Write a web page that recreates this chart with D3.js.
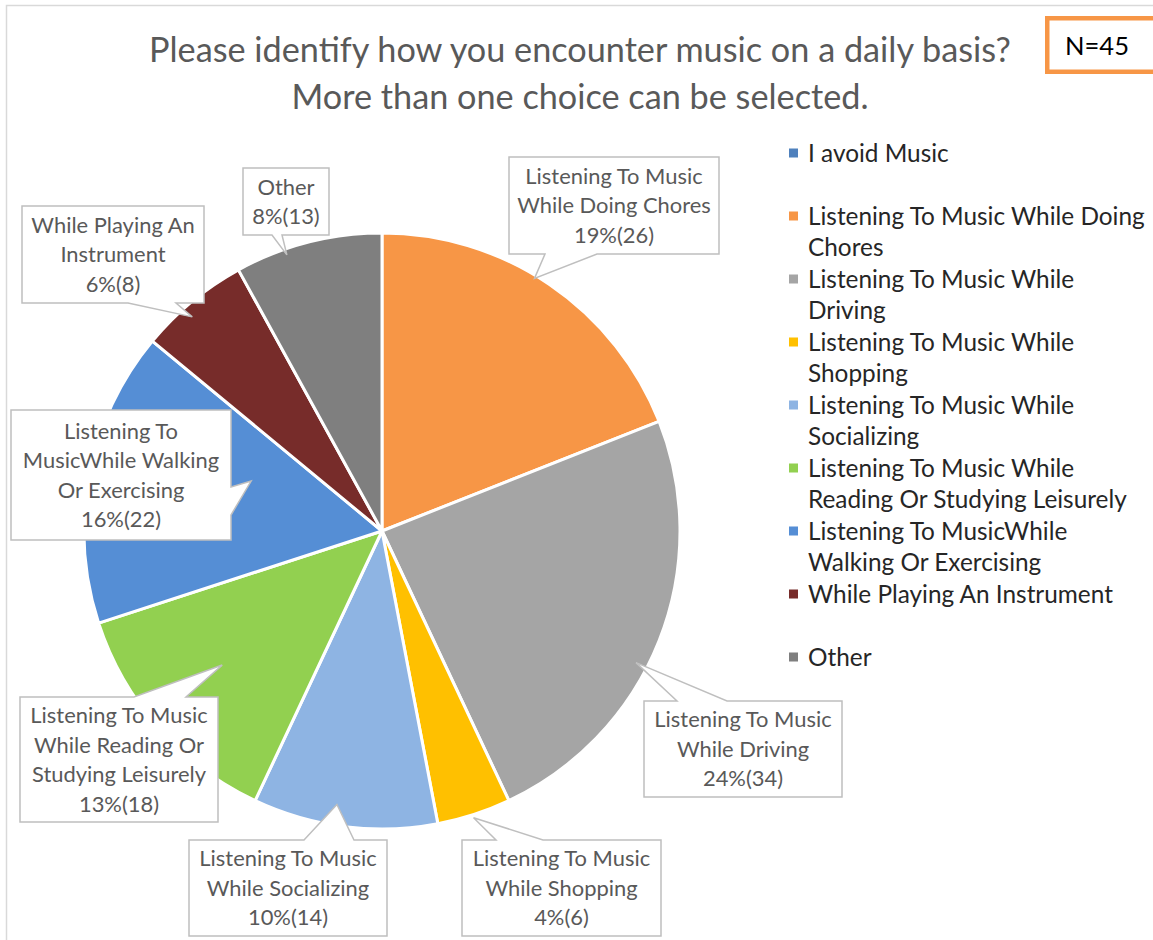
<!DOCTYPE html>
<html>
<head>
<meta charset="utf-8">
<script src="https://cdn.jsdelivr.net/npm/d3@7"></script>
<style>
  html, body { margin: 0; padding: 0; background: #fff; }
  svg { display: block; }
</style>
</head>
<body>
<svg id="chart" width="1153" height="940"></svg>
<script>
// ---- data ----
const legendLines = [
  ["I avoid Music"],
  ["Listening To Music While Doing", "Chores"],
  ["Listening To Music While", "Driving"],
  ["Listening To Music While", "Shopping"],
  ["Listening To Music While", "Socializing"],
  ["Listening To Music While", "Reading Or Studying Leisurely"],
  ["Listening To MusicWhile", "Walking Or Exercising"],
  ["While Playing An Instrument"],
  ["Other"]
];
const categories = legendLines.map(l => l.join(" "));
const shares = [0, 19, 24, 4, 10, 13, 16, 6, 8];      // percent of responses
const counts = [0, 26, 34, 6, 14, 18, 22, 8, 13];     // number of responses
const calloutText = [
  null,
  ["Listening To Music", "While Doing Chores"],
  ["Listening To Music", "While Driving"],
  ["Listening To Music", "While Shopping"],
  ["Listening To Music", "While Socializing"],
  ["Listening To Music", "While Reading Or", "Studying Leisurely"],
  ["Listening To", "MusicWhile Walking", "Or Exercising"],
  ["While Playing An", "Instrument"],
  ["Other"]
];
const titleLines = ["Please identify how you encounter music on a daily basis?",
                    "More than one choice can be selected."];
const sampleNote = "N=45";

// ---- styling ----
const colors = ["#4F81BD", "#F79646", "#A5A5A5", "#FFC000", "#8EB4E3",
                "#92D050", "#558ED5", "#772C2A", "#7F7F7F"];
const FONT = "Lato, 'Open Sans', sans-serif";

const canvas = document.createElement("canvas");
const ctx = canvas.getContext("2d");
function fitSize(text, targetW) {
  ctx.font = `100px ${FONT}`;
  return 100 * targetW / ctx.measureText(text).width;
}

const svg = d3.select("#chart");

// chart area frame
svg.append("rect")
  .attr("x", 6.5).attr("y", 5.5).attr("width", 1300).attr("height", 1100)
  .attr("fill", "#fff").attr("stroke", "#D9D9D9").attr("stroke-width", 1.5);

// ---- title ----
const titleSize = fitSize(titleLines[0], 866);
svg.append("g").selectAll("text").data(titleLines).join("text")
  .attr("x", 580).attr("y", (d, i) => 62 + i * 47)
  .attr("text-anchor", "middle")
  .style("font-family", FONT).style("font-size", titleSize + "px")
  .attr("fill", "#595959").text(d => d);

// ---- sample size box ----
svg.append("rect")
  .attr("x", 1047.25).attr("y", 18.25).attr("width", 140).attr("height", 53.5)
  .attr("fill", "#fff").attr("stroke", "#F79646").attr("stroke-width", 4.5);
svg.append("text")
  .attr("x", 1065).attr("y", 55)
  .style("font-family", FONT).style("font-size", fitSize(sampleNote, 64) + "px")
  .attr("fill", "#000").text(sampleNote);

// ---- pie ----
const cx = 382, cy = 531, R = 298;
const arcs = d3.pie().value(d => d).sort(null)(shares);
const arc = d3.arc().innerRadius(0).outerRadius(R);

const pieG = svg.append("g").attr("transform", `translate(${cx},${cy})`);
pieG.selectAll("path").data(arcs).join("path")
  .attr("d", arc)
  .attr("fill", (d, i) => colors[i])
  .attr("stroke", "#fff").attr("stroke-width", 3).attr("stroke-linejoin", "round");

// ---- callouts ----
// box, side of the pointer, pointer base along that side, and where the
// pointer lands inside its slice (fraction of the slice angle, fraction of radius)
const calloutLayout = [
  null,
  { box: [509, 157, 210, 97], side: "bottom", base: [545, 597], at: [0.455, 0.99] },
  { box: [644, 701, 198, 96], side: "top",    base: [677, 727], at: [0.567, 0.96] },
  { box: [462, 840, 199, 96], side: "top",    base: [496, 543], at: [0.52, 1.01] },
  { box: [189, 840, 198, 96], side: "top",    base: [304, 354], at: [0.56, 0.93] },
  { box: [20, 697, 198, 125], side: "top",    base: [134, 186], at: [0.53, 0.70] },
  { box: [11, 410, 220, 130], side: "right",  base: [487, 515], at: [0.675, 0.47] },
  { box: [22, 206, 182, 97],  side: "bottom", base: [128, 176], at: [0.41, 0.96] },
  { box: [243, 168, 86, 67],  side: "bottom", base: [272, 282], at: [0.34, 0.98] }
];

function tipPoint(a, at) {
  const ang = a.startAngle + (a.endAngle - a.startAngle) * at[0];
  const r = R * at[1];
  return [cx + r * Math.sin(ang), cy - r * Math.cos(ang)];
}

function calloutPath(box, side, base, tip) {
  const [x, y, w, h] = box, [a0, a1] = base, t = tip.join(",");
  if (side === "top")
    return `M${x},${y}L${a0},${y}L${t}L${a1},${y}L${x + w},${y}L${x + w},${y + h}L${x},${y + h}Z`;
  if (side === "bottom")
    return `M${x},${y}L${x + w},${y}L${x + w},${y + h}L${a1},${y + h}L${t}L${a0},${y + h}L${x},${y + h}Z`;
  return `M${x},${y}L${x + w},${y}L${x + w},${a0}L${t}L${x + w},${a1}L${x + w},${y + h}L${x},${y + h}Z`;
}

const labelSize = fitSize("Listening To Music", 178);
const labelLH = 29.5;
const calloutG = svg.append("g");
arcs.forEach((a, i) => {
  const L = calloutLayout[i];
  if (!L) return;
  const tip = tipPoint(a, L.at);
  calloutG.append("path")
    .attr("d", calloutPath(L.box, L.side, L.base, tip))
    .attr("fill", "#fff").attr("stroke", "#BFBFBF").attr("stroke-width", 1.5)
    .attr("stroke-linejoin", "miter");
  const lines = calloutText[i].concat([`${shares[i]}%(${counts[i]})`]);
  const [x, y, w, h] = L.box;
  const midY = y + h / 2;
  const first = midY - (lines.length - 1) * labelLH / 2;
  calloutG.append("g").selectAll("text").data(lines).join("text")
    .attr("x", x + w / 2)
    .attr("y", (d, k) => first + k * labelLH + labelSize * 0.36)
    .attr("text-anchor", "middle")
    .style("font-family", FONT).style("font-size", labelSize + "px")
    .attr("fill", "#595959").text(d => d);
});

// ---- legend ----
const legendSize = fitSize("Listening To Music While Doing", 338);
const legendG = svg.append("g").attr("transform", "translate(789,153)");
const item = legendG.selectAll("g").data(legendLines).join("g")
  .attr("transform", (d, i) => `translate(0,${i * 63})`);
item.append("rect")
  .attr("x", 0).attr("y", -4.5).attr("width", 9).attr("height", 9)
  .attr("fill", (d, i) => colors[i]);
item.each(function (lines) {
  d3.select(this).selectAll("text").data(lines).join("text")
    .attr("x", 19).attr("y", (d, k) => k * 31.5 + legendSize * 0.36)
    .style("font-family", FONT).style("font-size", legendSize + "px")
    .attr("fill", "#262626").text(d => d);
});
</script>
</body>
</html>
